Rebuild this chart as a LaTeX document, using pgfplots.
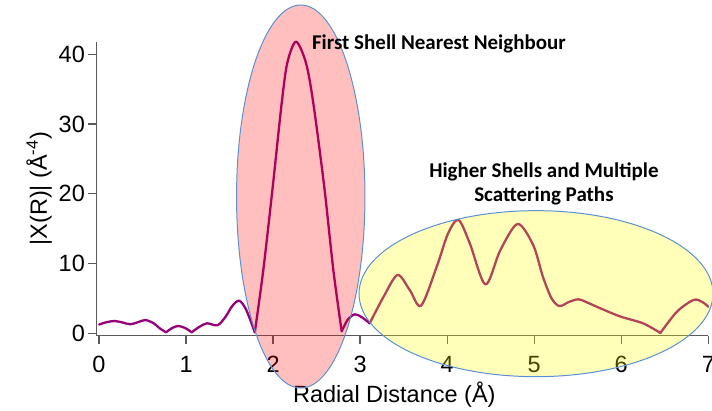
\documentclass[border=0pt]{standalone}
\usepackage{pgfplots}
\pgfplotsset{compat=1.18}
\usepackage{fontspec}
\setmainfont{Liberation Sans}
\newfontfamily\calibri{Carlito}
\definecolor{curve}{RGB}{150,0,120}
\definecolor{pinkfill}{RGB}{255,0,0}
\definecolor{yellowfill}{RGB}{255,255,0}
\definecolor{outline}{RGB}{91,145,210}
\definecolor{axisgray}{RGB}{90,90,90}
\pgfplotsset{exafs/.style={curve, no markers, line width=2.3pt, smooth, tension=0.5, line cap=round, line join=round}}

\begin{document}
\begin{tikzpicture}
\begin{axis}[
  x=87.04pt, y=6.975pt,
  xmin=-0.03, xmax=7, ymin=-0.32, ymax=41.75,
  axis x line*=bottom, axis y line*=left,
  axis line style={axisgray, line width=1.3pt},
  tick style={axisgray, line width=1.3pt},
  tick align=outside, major tick length=8pt,
  xtick={0,1,...,7}, ytick={0,10,...,40},
  /pgf/number format/assume math mode=true,
  tick label style={font=\fontsize{23.5}{28}\selectfont, text=black},
  xticklabel style={yshift=-9pt},
  label style={font=\fontsize{23.5}{28}\selectfont},
  xlabel={Radial Distance (Å)},
  xlabel style={xshift=-8pt, yshift=-2pt},
  ylabel={|X(R)| (Å\textsuperscript{-4})},
  clip=false,
]
\addplot[exafs] coordinates {(0,1.25) (0.09,1.6) (0.18,1.76) (0.27,1.55) (0.36,1.29) (0.45,1.6) (0.53,1.9) (0.62,1.5) (0.70,0.7) (0.77,0.14)};
\addplot[exafs] coordinates {(0.77,0.14) (0.84,0.75) (0.91,1.05) (0.99,0.75) (1.065,0.14)};
\addplot[exafs] coordinates {(1.065,0.14) (1.15,0.9) (1.24,1.43) (1.36,1.15) (1.45,2.3) (1.53,3.9) (1.61,4.68) (1.69,3.4) (1.79,0.14)};
\addplot[exafs] coordinates {(1.79,0.14) (1.888,9.1) (1.996,21) (2.099,33) (2.163,38.75) (2.263,41.8) (2.378,38.75) (2.462,33) (2.588,21) (2.692,9.1) (2.788,0.3)};
\addplot[exafs] coordinates {(2.788,0.3) (2.86,2.0) (2.94,2.72) (3.02,2.3) (3.11,1.43)};
\addplot[exafs] coordinates {(3.11,1.43) (3.27,5.25) (3.43,8.36) (3.57,6.2) (3.70,3.96) (3.88,9.55) (4.01,14.3) (4.13,16.25) (4.26,12.9) (4.44,7.0) (4.61,11.9) (4.81,15.67) (4.99,12.6) (5.10,8.1) (5.20,5.0) (5.29,3.9) (5.40,4.5) (5.51,4.87) (5.63,4.3) (5.76,3.58) (5.99,2.4) (6.25,1.43) (6.45,0.05)};
\addplot[exafs] coordinates {(6.45,0.05) (6.64,3.1) (6.83,4.78) (6.93,4.5) (7.0,3.8)};
\coordinate (bbA) at (axis cs:-1.1374,47.785);
\coordinate (bbB) at (axis cs:7.0427,-11.14);
\coordinate (e1) at (axis cs:2.318,19.61);
\coordinate (e2) at (axis cs:5.021,5.68);
\coordinate (t1) at (axis cs:3.906,40.62);
\coordinate (t2) at (axis cs:5.112,22.37);
\coordinate (t3) at (axis cs:5.112,18.87);
\end{axis}
\fill[pinkfill, fill opacity=0.25] (e1) ellipse [x radius=64.2pt, y radius=191.5pt];
\draw[outline, line width=1pt] (e1) ellipse [x radius=64.2pt, y radius=191.5pt];
\fill[yellowfill, fill opacity=0.27] (e2) ellipse [x radius=177pt, y radius=83pt];
\draw[outline, line width=1pt] (e2) ellipse [x radius=177pt, y radius=83pt];
\node[anchor=base, inner sep=0pt, font=\calibri\bfseries\fontsize{21}{25}\selectfont] at (t1) {First Shell Nearest Neighbour};
\node[anchor=base, inner sep=0pt, font=\calibri\bfseries\fontsize{21}{25}\selectfont] at (t2) {Higher Shells and Multiple};
\node[anchor=base, inner sep=0pt, font=\calibri\bfseries\fontsize{21}{25}\selectfont] at (t3) {Scattering Paths};
\pgfresetboundingbox
\useasboundingbox (bbA) rectangle (bbB);
\end{tikzpicture}
\end{document}
